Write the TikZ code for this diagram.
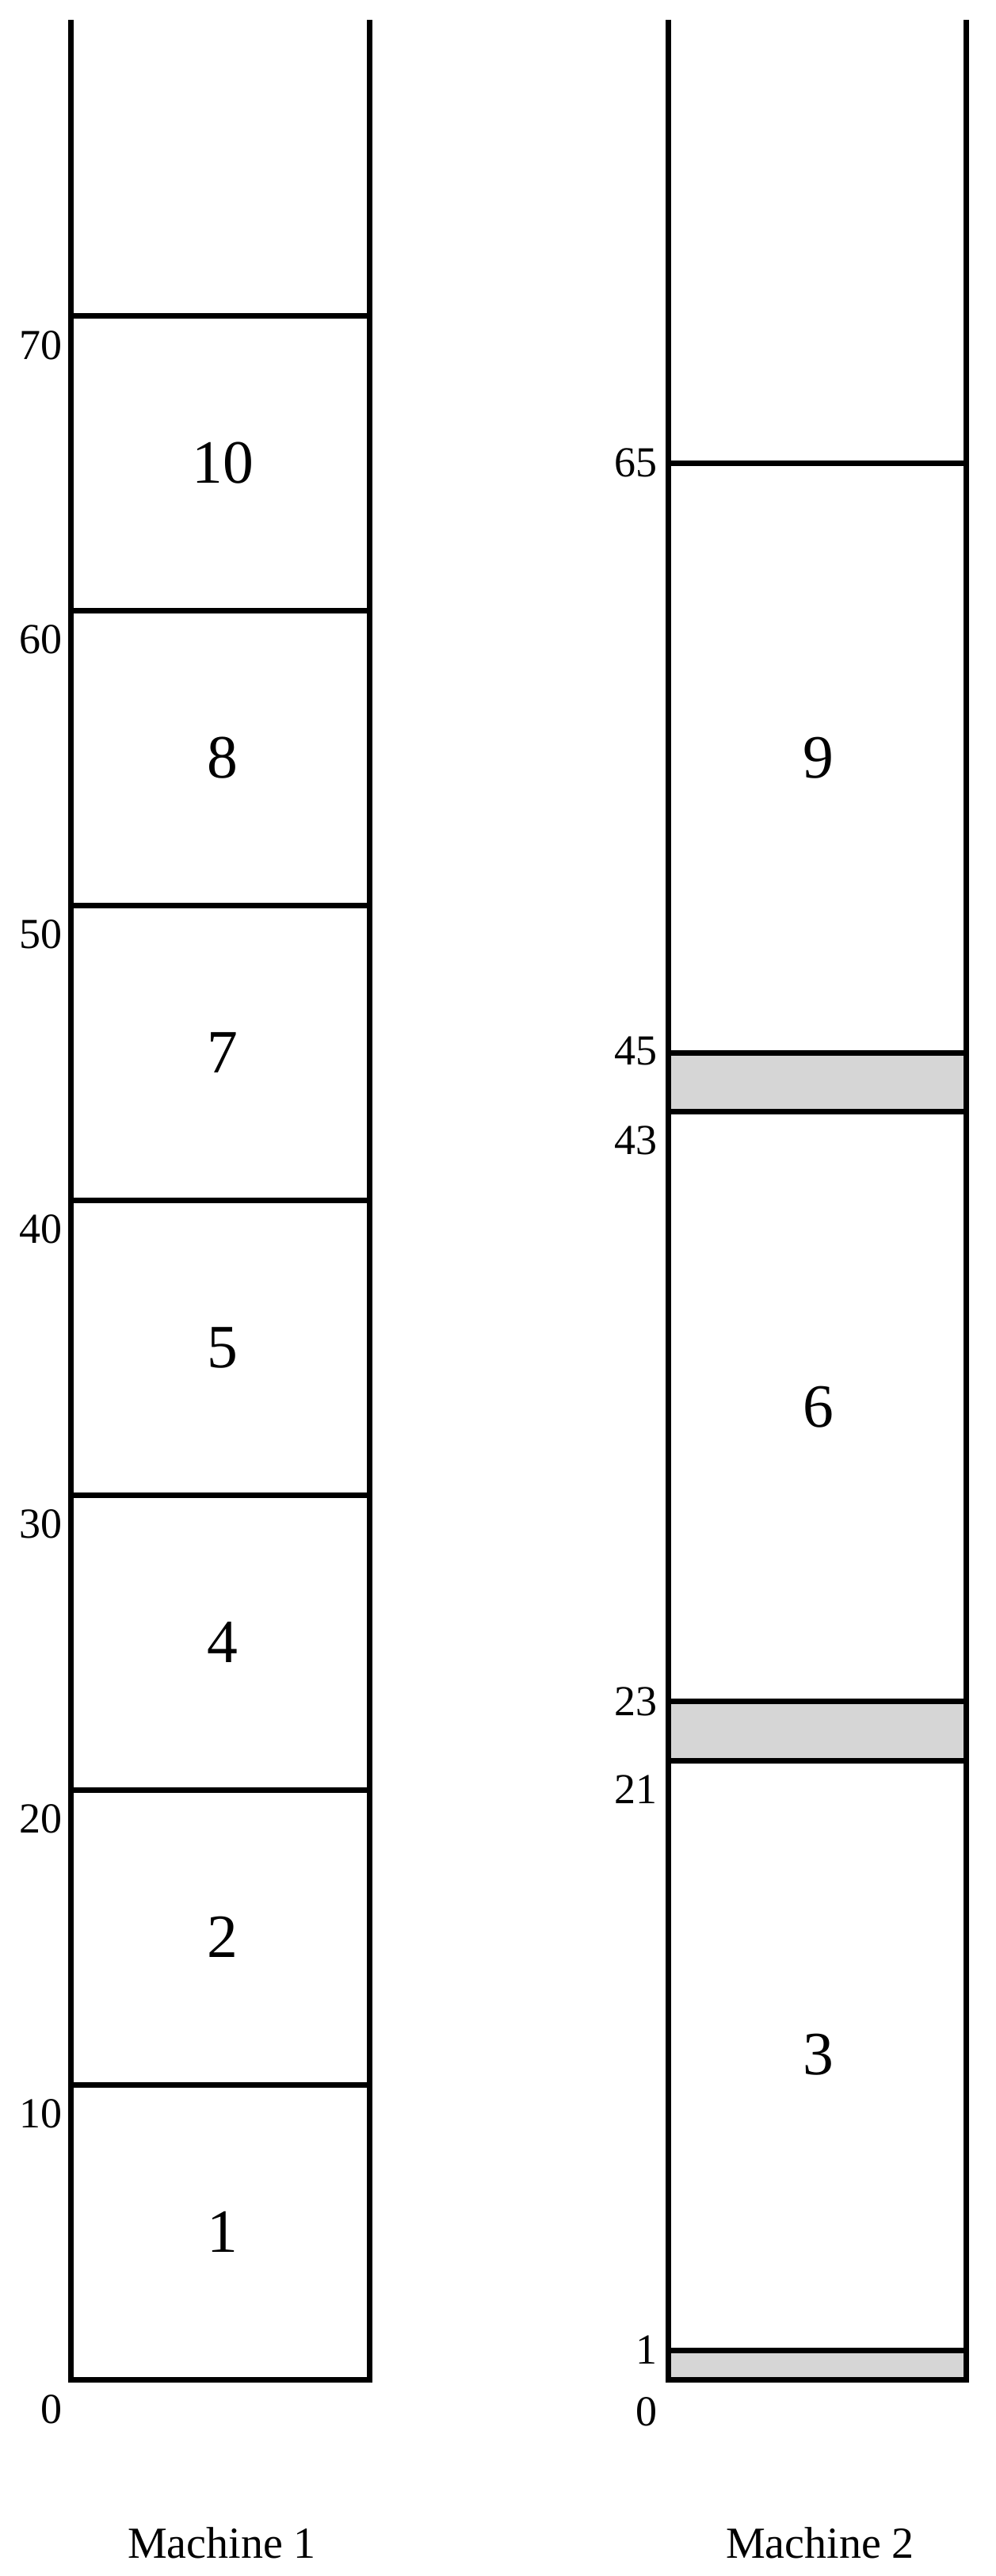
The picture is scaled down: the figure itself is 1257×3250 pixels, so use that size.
\documentclass[tikz,border=0pt]{standalone}
\usepackage{fontspec}
\setmainfont{Liberation Serif}
\begin{document}
\begin{tikzpicture}[x=0.5pt,y=-0.5pt,
  bar/.style={line width=3.5pt},
  idle/.style={fill=black!16},
  joblab/.style={font=\fontsize{38.8}{40}\selectfont, inner sep=0},
  ticklab/.style={font=\fontsize{27}{30}\selectfont, inner sep=0, anchor=east},
  machlab/.style={font=\fontsize{28}{30}\selectfont, inner sep=0, anchor=base}]
\useasboundingbox (0,0) rectangle (1257,3250);
% ---------- Machine 1 ----------
\coordinate (m1tl) at (89.5,25);
\coordinate (m1tr) at (466.5,25);
\coordinate (m1bl) at (89.5,3002);
\coordinate (m1br) at (466.5,3002);
\draw[bar] (m1tl) -- (m1bl) -- (m1br) -- (m1tr);
\foreach \y in {2630,2258,1886,1514,1142,770,398}{
  \draw[bar] (89.5,\y) -- (466.5,\y);
}
\node[joblab] (j1) at (281,2816) {1};
\node[joblab] (j2) at (281,2444) {2};
\node[joblab] (j4) at (281,2072) {4};
\node[joblab] (j5) at (281,1700) {5};
\node[joblab] (j7) at (281,1328) {7};
\node[joblab] (j8) at (281,956) {8};
\node[joblab] (j10) at (281,584) {10};
\node[ticklab] (t0a) at (79,3040) {0};
\node[ticklab] (t10) at (79,2667) {10};
\node[ticklab] (t20) at (79,2295) {20};
\node[ticklab] (t30) at (79,1923) {30};
\node[ticklab] (t40) at (79,1551) {40};
\node[ticklab] (t50) at (79,1179) {50};
\node[ticklab] (t60) at (79,807) {60};
\node[ticklab] (t70) at (79,436) {70};
\node[machlab] (mach1) at (280,3227) {Machine 1};
% ---------- Machine 2 ----------
\coordinate (m2tl) at (843,25);
\coordinate (m2tr) at (1219.5,25);
\coordinate (m2bl) at (843,3002);
\coordinate (m2br) at (1219.5,3002);
\fill[idle] (843,2965) rectangle (1219.5,3002);
\fill[idle] (843,2146.5) rectangle (1219.5,2221);
\fill[idle] (843,1328) rectangle (1219.5,1402.5);
\draw[bar] (m2tl) -- (m2bl) -- (m2br) -- (m2tr);
\foreach \y in {2965,2221,2146.5,1402.5,1328,584}{
  \draw[bar] (843,\y) -- (1219.5,\y);
}
\node[joblab] (j3) at (1033,2592) {3};
\node[joblab] (j6) at (1033,1775) {6};
\node[joblab] (j9) at (1033,956) {9};
\node[ticklab] (u0) at (830,3043) {0};
\node[ticklab] (u1) at (830,2965) {1};
\node[ticklab] (u21) at (830,2258) {21};
\node[ticklab] (u23) at (830,2146.5) {23};
\node[ticklab] (u43) at (830,1439) {43};
\node[ticklab] (u45) at (830,1326) {45};
\node[ticklab] (u65) at (830,584) {65};
\node[machlab] (mach2) at (1035,3227) {Machine 2};
\end{tikzpicture}
\end{document}
